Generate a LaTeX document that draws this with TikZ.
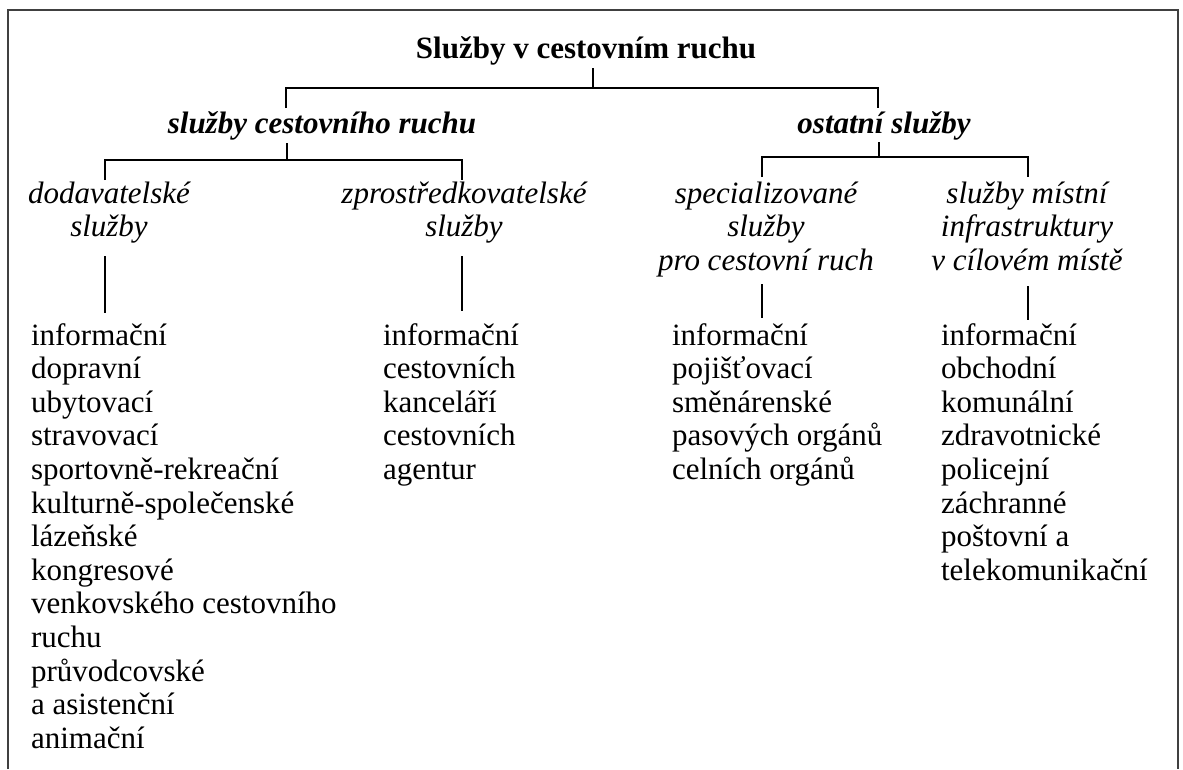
\documentclass[tikz,border=0pt]{standalone}
\usepackage{fontspec}
\setmainfont{Liberation Serif}
\newcommand{\rows}[2]{{\renewcommand{\arraystretch}{1}\begin{tabular}[t]{@{}#1@{}}#2\end{tabular}}}
\begin{document}
\begin{tikzpicture}[x=1pt,y=-1pt,
  txt/.style={inner sep=0pt, outer sep=0pt, font=\fontsize{31}{33.6}\selectfont},
  tit/.style={txt, font=\fontsize{31}{33.6}\selectfont\bfseries},
  sub/.style={txt, font=\fontsize{31}{33.6}\selectfont\bfseries\itshape},
  hd/.style={txt, font=\fontsize{31}{33.6}\selectfont\itshape},
  ln/.style={line width=1.8pt, black},
  frame/.style={line width=2pt, black!75}]
\useasboundingbox (0,0) rectangle (1183,769);
\fill[white] (0,0) rectangle (1183,769);
\draw[frame] (8,769) -- (8,10) -- (1178,10) -- (1178,769);

% texts
\node[tit, anchor=base] (root) at (586,58) {Služby v cestovním ruchu};
\node[sub, anchor=base] (scr) at (322,133) {služby cestovního ruchu};
\node[sub, anchor=base] (os) at (884,133) {ostatní služby};

\node[hd, anchor=base] (dod) at (109,203) {\rows{c}{dodavatelské\\služby}};
\node[hd, anchor=base] (zpr) at (464,203) {\rows{c}{zprostředkovatelské\\služby}};
\node[hd, anchor=base] (spec) at (766,203) {\rows{c}{specializované\\služby\\pro cestovní ruch}};
\node[hd, anchor=base] (mist) at (1027,203) {\rows{c}{služby místní\\infrastruktury\\v cílovém místě}};

\node[txt, anchor=base west] (l1) at (31,345) {\rows{l}{informační\\dopravní\\ubytovací\\stravovací\\sportovně-rekreační\\kulturně-společenské\\lázeňské\\kongresové\\venkovského cestovního\\ruchu\\průvodcovské\\a asistenční\\animační}};
\node[txt, anchor=base west] (l2) at (383,345) {\rows{l}{informační\\cestovních\\kanceláří\\cestovních\\agentur}};
\node[txt, anchor=base west] (l3) at (672,345) {\rows{l}{informační\\pojišťovací\\směnárenské\\pasových orgánů\\celních orgánů}};
\node[txt, anchor=base west] (l4) at (941,345) {\rows{l}{informační\\obchodní\\komunální\\zdravotnické\\policejní\\záchranné\\poštovní a\\telekomunikační}};

% junction coordinates
\coordinate (rootB) at (593,68);
\coordinate (rootJ) at (593,88);
\coordinate (scrT) at (286,108);
\coordinate (osT) at (878,108);
\coordinate (scrB) at (287,143);
\coordinate (scrJ) at (287,160);
\coordinate (dodT) at (105,180);
\coordinate (zprT) at (462,180);
\coordinate (osB) at (879,142);
\coordinate (osJ) at (879,157);
\coordinate (specT) at (762,177);
\coordinate (mistT) at (1028,177);
\coordinate (dodB) at (105,256);
\coordinate (l1T) at (105,313);
\coordinate (zprB) at (462,256);
\coordinate (l2T) at (462,311);
\coordinate (specB) at (762,284);
\coordinate (l3T) at (762,318);
\coordinate (mistB) at (1028,286);
\coordinate (l4T) at (1028,320);

% connectors
\draw[ln] (rootB) -- (rootJ);
\draw[ln] (scrT) |- (rootJ) -| (osT);
\draw[ln] (scrB) -- (scrJ);
\draw[ln] (dodT) |- (scrJ) -| (zprT);
\draw[ln] (osB) -- (osJ);
\draw[ln] (specT) |- (osJ) -| (mistT);
\draw[ln] (dodB) -- (l1T);
\draw[ln] (zprB) -- (l2T);
\draw[ln] (specB) -- (l3T);
\draw[ln] (mistB) -- (l4T);
\end{tikzpicture}
\end{document}
